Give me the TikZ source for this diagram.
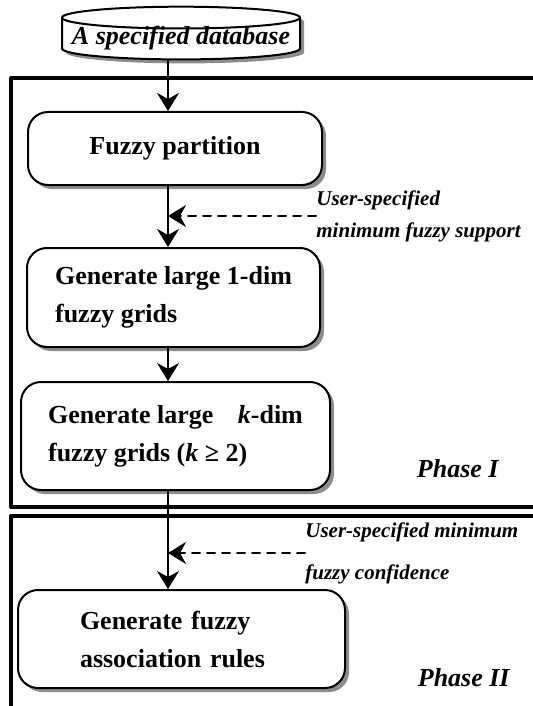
\documentclass[tikz,border=0pt]{standalone}
\usepackage{fontspec}
\setmainfont{Liberation Serif}
\usetikzlibrary{arrows.meta,positioning,shadows,shapes.geometric}
\tikzset{
  fz diagram/.style={x=0.5pt, y=-0.5pt, line cap=round, line join=round},
  fz shadow/.style={drop shadow={shadow xshift=2pt, shadow yshift=-2pt,
    fill=black!45, opacity=1}},
  fz box/.style={draw, line width=1pt, rounded corners=10pt, fill=white,
    align=left, inner sep=0pt, fz shadow,
    font=\fontsize{13}{19}\selectfont\bfseries},
  fz db/.style={shape=cylinder, shape border rotate=90, aspect=0.1, draw,
    line width=1pt, fill=white, minimum width=119pt, minimum height=10pt,
    text height=7.5pt, text depth=2pt, inner sep=0pt, fz shadow,
    font=\fontsize{13}{16}\selectfont\bfseries\itshape},
  fz arrow/.style={-{Stealth[length=9pt, width=11pt, inset=3pt]}, line width=1pt},
  fz input/.style={fz arrow, dash pattern=on 4pt off 3.5pt},
  fz label/.style={font=\fontsize{10.5}{16}\selectfont\bfseries\itshape,
    align=left, inner sep=0pt, anchor=west},
  fz phase/.style={font=\fontsize{13}{16}\selectfont\bfseries\itshape,
    inner sep=0pt, anchor=east},
  fz frame/.style={line width=2pt, line cap=butt}
}
\begin{document}
\begin{tikzpicture}[fz diagram]
\useasboundingbox (0,0) rectangle (533,706);
% phase frames
\draw[fz frame] (545,78) -- (11,78) -- (11,507) -- (545,507);
\draw[fz frame] (545,516) -- (11,516) -- (11,720);
\coordinate (spine) at (168,0);
\node[fz db] (db) at (181,39) {A specified database};
\node[fz box, minimum width=147pt, minimum height=36.5pt, align=center] (part) at (175,148.5) {Fuzzy partition};
\node[fz box, minimum width=146.5pt, minimum height=49.5pt] (one) at (173.5,297.5) {Generate large 1-dim\\fuzzy grids};
\node[fz box, minimum width=154.5pt, minimum height=54pt] (kdim) at (175.5,436) {Generate large\hspace{9pt} \textit{k}-dim\\fuzzy grids (\textit{k} ≥ 2)};
\node[fz box, minimum width=163.5pt, minimum height=49pt, text width=101.5pt] (rules) at (181.5,639) {Generate fuzzy\\association rules};
\draw[fz arrow] (db.south -| spine) -- (part.north -| spine);
\draw[fz arrow] (part.south -| spine) -- (one.north -| spine);
\draw[fz arrow] (one.south -| spine) -- (kdim.north -| spine);
\draw[fz arrow] (kdim.south -| spine) -- (rules.north -| spine);
% user thresholds
\node[fz label] (minsup) at (316,216) {User-specified\\minimum fuzzy support};
\node[fz label] (minconf) at (305,553) {User-specified minimum\\[5pt]fuzzy confidence};
\draw[fz input] (minsup.west) -- (minsup.west -| spine);
\draw[fz input] (minconf.west) -- (minconf.west -| spine);
\node[fz phase] (ph1) at (499,469) {Phase I};
\node[fz phase] (ph2) at (510,678) {Phase II};
\end{tikzpicture}
\end{document}
